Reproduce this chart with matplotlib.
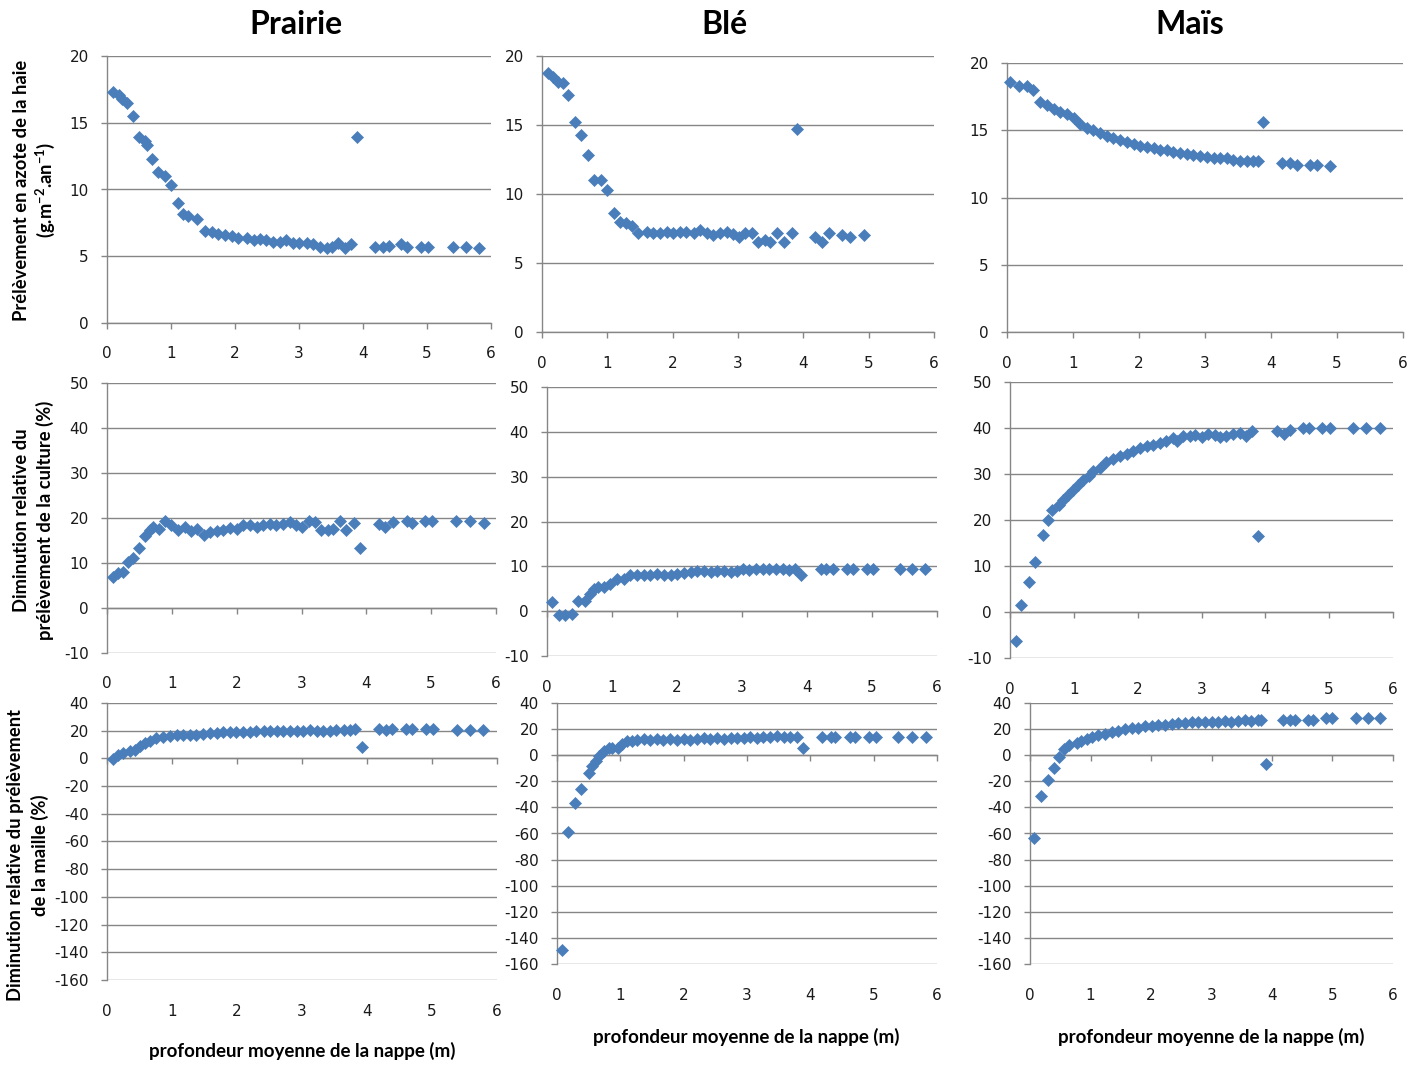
import matplotlib
matplotlib.use("Agg")
import matplotlib.pyplot as plt

# ---------------- data ----------------
prairie_haie_x = [0.10,0.18,0.23,0.31,0.41,0.50,0.59,0.62,0.70,0.80,0.90,1.00,1.11,1.19,1.27,1.40,1.53,1.64,1.74,1.84,
                  1.95,2.05,2.18,2.29,2.39,2.49,2.60,2.70,2.80,2.91,3.00,3.12,3.22,3.33,3.43,3.51,3.61,3.72,3.82,3.90,
                  4.19,4.32,4.41,4.60,4.69,4.90,5.02,5.40,5.61,5.82]
prairie_haie_y = [17.3,17.1,16.8,16.5,15.5,13.9,13.6,13.3,12.3,11.3,11.0,10.3,9.0,8.2,8.05,7.8,6.9,6.8,6.7,6.6,
                  6.5,6.4,6.4,6.2,6.3,6.2,6.1,6.1,6.2,6.0,6.0,6.0,5.9,5.7,5.6,5.7,6.0,5.6,5.9,13.9,
                  5.7,5.7,5.8,5.9,5.7,5.7,5.7,5.7,5.7,5.65]

ble_haie_x = [0.09,0.17,0.24,0.32,0.40,0.51,0.60,0.71,0.80,0.91,1.00,1.10,1.19,1.29,1.37,1.47,1.60,1.70,1.81,1.91,
              2.01,2.11,2.21,2.32,2.42,2.52,2.62,2.73,2.83,2.93,3.01,3.11,3.21,3.30,3.41,3.49,3.60,3.70,3.82,3.90,
              4.18,4.29,4.39,4.59,4.72,4.93]
ble_haie_y = [18.8,18.45,18.1,18.05,17.2,15.2,14.3,12.8,11.0,11.0,10.3,8.6,8.0,7.9,7.7,7.2,7.25,7.2,7.15,7.25,
              7.15,7.25,7.25,7.15,7.4,7.2,7.0,7.15,7.25,7.1,6.9,7.15,7.2,6.5,6.7,6.5,7.2,6.5,7.15,14.7,
              6.85,6.5,7.15,7.0,6.9,7.05]

mais_haie_x = [0.05,0.18,0.30,0.39,0.50,0.61,0.71,0.81,0.91,1.01,1.11,1.21,1.31,1.41,1.51,1.61,1.71,1.82,1.92,2.02,
               2.12,2.22,2.32,2.42,2.52,2.62,2.72,2.82,2.92,3.03,3.13,3.23,3.33,3.43,3.53,3.63,3.73,3.81,3.88,
               4.16,4.29,4.39,4.59,4.69,4.89]
mais_haie_y = [18.6,18.3,18.3,18.0,17.1,16.85,16.6,16.35,16.2,15.9,15.5,15.2,15.0,14.8,14.55,14.4,14.25,14.1,14.0,13.8,
               13.75,13.7,13.55,13.5,13.4,13.3,13.25,13.15,13.05,13.0,12.95,12.9,12.9,12.8,12.75,12.75,12.7,12.7,15.6,
               12.55,12.55,12.45,12.45,12.45,12.35]

prairie_culture_x = [0.09,0.17,0.24,0.32,0.40,0.50,0.58,0.66,0.71,0.80,0.89,0.99,1.10,1.20,1.30,1.39,1.49,1.59,1.69,1.79,
                     1.89,2.00,2.10,2.20,2.31,2.41,2.51,2.61,2.72,2.82,2.92,3.00,3.11,3.21,3.30,3.41,3.49,3.60,3.69,3.81,3.90,
                     4.20,4.29,4.41,4.62,4.70,4.90,5.01,5.39,5.60,5.81]
prairie_culture_y = [7.0,7.8,8.1,10.2,11.1,13.3,15.9,17.4,17.9,17.6,19.3,18.5,17.4,18.1,17.2,17.6,16.3,17.0,17.2,17.4,
                     17.8,17.6,18.5,18.4,18.1,18.5,18.7,18.4,18.7,19.1,18.5,18.1,19.4,19.1,17.4,17.4,17.6,19.4,17.4,18.9,13.3,
                     18.7,18.1,19.1,19.3,18.9,19.3,19.3,19.3,19.3,19.0]

ble_culture_x = [0.07,0.18,0.27,0.39,0.48,0.58,0.66,0.73,0.79,0.87,0.97,1.07,1.18,1.28,1.38,1.49,1.59,1.69,1.80,1.90,
                 2.00,2.10,2.21,2.31,2.41,2.52,2.62,2.72,2.83,2.93,3.01,3.11,3.21,3.32,3.42,3.52,3.63,3.73,3.81,3.91,
                 4.22,4.30,4.40,4.61,4.71,4.92,5.02,5.43,5.61,5.82]
ble_culture_y = [2.0,-0.8,-0.9,-0.6,2.2,2.2,3.9,5.0,5.4,5.4,6.1,7.2,7.1,8.0,8.0,8.1,8.0,8.4,8.1,8.1,
                 8.4,8.6,8.7,8.9,8.9,8.7,8.9,8.9,8.7,8.9,9.3,9.1,9.3,9.3,9.3,9.3,9.3,9.1,9.3,8.0,
                 9.3,9.3,9.3,9.3,9.3,9.3,9.3,9.3,9.3,9.3]

mais_culture_x = [0.09,0.18,0.29,0.39,0.51,0.59,0.66,0.76,0.83,0.91,0.99,1.07,1.15,1.23,1.30,1.41,1.51,1.62,1.72,1.83,
                  1.93,2.03,2.14,2.24,2.35,2.45,2.56,2.61,2.71,2.82,2.90,3.00,3.10,3.21,3.29,3.39,3.50,3.60,3.70,3.79,3.89,
                  4.19,4.29,4.38,4.59,4.69,4.88,5.01,5.37,5.58,5.79]
mais_culture_y = [-6.2,1.6,6.5,10.9,16.8,19.9,22.2,23.3,24.4,25.5,26.6,27.7,28.8,29.6,30.6,31.4,32.6,33.3,34.0,34.3,
                  34.9,35.7,36.0,36.4,36.7,37.2,37.8,37.1,38.2,38.2,38.4,38.0,38.7,38.4,38.0,38.2,38.6,38.9,38.2,39.4,16.6,
                  39.3,38.7,39.6,39.9,39.9,39.9,39.9,40.1,40.1,40.1]

prairie_maille_x = [0.09,0.17,0.25,0.35,0.43,0.50,0.58,0.66,0.76,0.86,0.97,1.07,1.17,1.27,1.37,1.48,1.58,1.69,1.79,1.89,
                    1.99,2.10,2.20,2.30,2.41,2.51,2.61,2.71,2.82,2.92,3.02,3.12,3.23,3.33,3.43,3.53,3.64,3.74,3.82,3.93,
                    4.19,4.29,4.39,4.60,4.70,4.91,5.01,5.38,5.59,5.79]
prairie_maille_y = [-0.2,2.2,3.9,5.1,6.3,8.7,11.1,12.8,14.7,15.2,15.9,16.6,17.1,16.6,17.1,17.6,18.3,18.3,19.0,19.0,
                    19.0,19.0,19.0,19.5,20.0,19.5,20.0,19.5,20.0,20.0,20.0,20.7,20.0,20.0,20.0,20.5,20.5,20.5,21.0,8.2,
                    21.0,20.5,21.0,21.0,21.0,21.0,21.0,20.5,20.5,20.5]

ble_maille_x = [0.08,0.18,0.29,0.38,0.50,0.55,0.61,0.67,0.74,0.82,0.87,0.97,1.03,1.10,1.18,1.26,1.37,1.47,1.58,1.68,
                1.79,1.89,2.00,2.10,2.21,2.32,2.42,2.53,2.63,2.74,2.84,2.95,3.05,3.16,3.26,3.37,3.47,3.58,3.68,3.79,3.89,
                4.18,4.32,4.39,4.62,4.71,4.92,5.03,5.39,5.61,5.82]
ble_maille_y = [-149.6,-58.6,-36.3,-26.1,-13.3,-8.2,-4.3,-0.5,3.3,5.9,5.4,5.4,8.4,11.0,11.0,11.5,12.3,11.5,12.3,11.5,
                12.3,11.5,12.3,11.5,12.3,13.0,12.3,13.0,12.3,13.0,13.0,13.0,13.6,13.0,14.1,14.1,14.8,13.6,14.1,14.1,5.9,
                13.6,14.1,13.6,13.6,13.6,13.6,13.6,13.6,13.6,13.6]

mais_maille_x = [0.07,0.18,0.29,0.39,0.48,0.56,0.65,0.77,0.85,0.94,1.03,1.13,1.24,1.35,1.46,1.57,1.68,1.79,1.90,2.01,
                 2.12,2.23,2.34,2.45,2.56,2.67,2.78,2.89,3.00,3.11,3.22,3.33,3.44,3.55,3.66,3.77,3.82,3.90,
                 4.18,4.29,4.38,4.60,4.68,4.90,5.00,5.39,5.59,5.78]
mais_maille_y = [-63.2,-31.2,-19.2,-10.0,-1.3,4.6,7.9,9.0,11.0,12.3,13.6,15.6,16.6,17.4,18.7,19.9,20.7,21.2,22.5,22.5,
                 23.3,23.3,23.8,24.3,24.3,25.1,25.1,25.8,25.1,25.8,26.3,25.8,26.3,26.9,26.3,26.9,26.9,-6.9,
                 26.9,26.9,26.9,26.9,26.9,28.4,28.4,28.4,28.4,28.4]

titles = ["Prairie", "Blé", "Maïs"]
x_ticks = [0, 1, 2, 3, 4, 5, 6]
row_yticks = [[0, 5, 10, 15, 20],
              [-10, 0, 10, 20, 30, 40, 50],
              [-160, -140, -120, -100, -80, -60, -40, -20, 0, 20, 40]]
row_ylabels = [("Prélèvement en azote de la haie", "(g.m$^{-2}$.an$^{-1}$)"),
               ("Diminution relative du", "prélèvement de la culture (%)"),
               ("Diminution relative du prélèvement", "de la maille (%)")]
xlabel = "profondeur moyenne de la nappe (m)"

# ---------------- layout ----------------
W, H = 1424, 1066
plt.rcParams['mathtext.fontset'] = 'custom'
plt.rcParams['mathtext.rm'] = 'Lato:bold'
plt.rcParams['mathtext.default'] = 'rm'
plt.rcParams['axes.unicode_minus'] = False

fig = plt.figure(figsize=(W / 100, H / 100), dpi=100)
fig.patch.set_facecolor('white')

GRAY = '#868686'
BLUE = '#4A7EBB'

# boxes in pixels: left, top, right, bottom
boxes = [
    [(107, 56, 491, 323), (542, 56, 934, 332), (1007, 63, 1403, 332)],
    [(107, 383, 496, 653), (547, 387, 937, 656), (1010, 382, 1393, 658)],
    [(107, 703, 497, 980), (557, 703, 937, 964), (1030, 703, 1393, 964)],
]
data = [
    [(prairie_haie_x, prairie_haie_y), (ble_haie_x, ble_haie_y), (mais_haie_x, mais_haie_y)],
    [(prairie_culture_x, prairie_culture_y), (ble_culture_x, ble_culture_y), (mais_culture_x, mais_culture_y)],
    [(prairie_maille_x, prairie_maille_y), (ble_maille_x, ble_maille_y), (mais_maille_x, mais_maille_y)],
]

for r in range(3):
    for c in range(3):
        l, t, rr, b = boxes[r][c]
        ax = fig.add_axes([l / W, 1 - b / H, (rr - l) / W, (b - t) / H])
        xs, ys = data[r][c]
        ax.plot(xs, ys, linestyle='none', marker='D', markersize=6.6,
                color=BLUE, markeredgecolor=BLUE, markeredgewidth=0.5, clip_on=False, zorder=3)
        yt = row_yticks[r]
        ax.set_xlim(0, 6)
        ax.set_ylim(yt[0], yt[-1])
        ax.set_xticks(x_ticks)
        ax.set_yticks(yt)
        ax.grid(axis='y', color=GRAY, linewidth=1)
        ax.grid(axis='x', visible=False)
        ax.set_axisbelow(True)
        for s in ('top', 'right'):
            ax.spines[s].set_visible(False)
        ax.spines['left'].set_color(GRAY)
        ax.spines['bottom'].set_color(GRAY)
        ax.spines['left'].set_linewidth(1)
        ax.spines['bottom'].set_linewidth(1)
        ax.spines['bottom'].set_position(('data', 0))
        ax.tick_params(axis='both', direction='out', length=4, width=1, color=GRAY)
        ax.tick_params(axis='y', labelsize=11, pad=9, labelcolor='#1a1a1a')
        ax.tick_params(axis='x', labelbottom=False)
        for v in x_ticks:
            ax.annotate(str(v), xy=(v, 0), xycoords=ax.get_xaxis_transform(),
                        xytext=(0, -31), textcoords='offset pixels',
                        ha='center', va='center', fontsize=11, color='#1a1a1a')

# titles
for txt, xc in zip(titles, [296, 724, 1190]):
    fig.text(xc / W, 1 - 25 / H, txt, ha='center', va='center',
             fontsize=23, fontweight='bold', family='Lato')

# row y labels
ylabel_pos = [((22, 190), (45, 190)), ((22, 520), (45, 520)), ((16, 855), (40, 855))]
for (l1, l2), ((x1, y1), (x2, y2)) in zip(row_ylabels, ylabel_pos):
    fig.text(x1 / W, 1 - y1 / H, l1, rotation=90, ha='center', va='center',
             fontsize=13.2, fontweight='bold', family='Lato')
    fig.text(x2 / W, 1 - y2 / H, l2, rotation=90, ha='center', va='center',
             fontsize=13.2, fontweight='bold', family='Lato')

# x labels
for (xc, yc) in [(302, 1051), (746, 1037), (1211, 1037)]:
    fig.text(xc / W, 1 - yc / H, xlabel, ha='center', va='center',
             fontsize=13.5, fontweight='bold', family='Lato')

fig.savefig('out.png', dpi=100, facecolor='white')
